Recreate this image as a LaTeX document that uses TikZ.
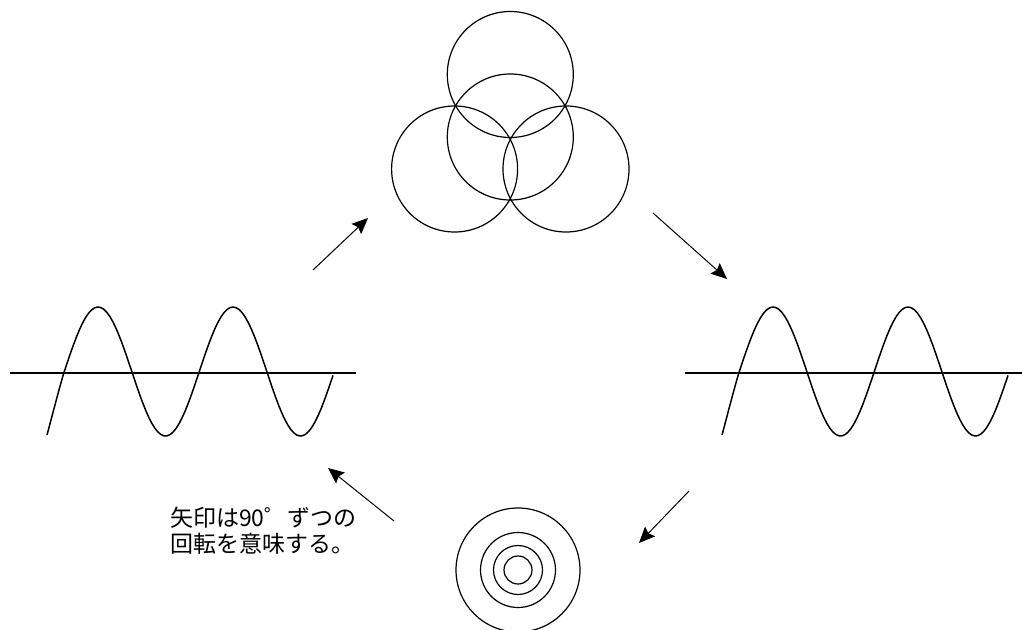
\documentclass[tikz,border=0pt]{standalone}
\usepackage{fontspec}
\newfontfamily\jpfont{Noto Sans CJK JP}
\usetikzlibrary{arrows.meta}
\begin{document}
\begin{tikzpicture}[x=1pt,y=-1pt,
  ring/.style={draw=black,line width=1.2pt},
  axisline/.style={draw=black,line width=1.9pt},
  wavecurve/.style={draw=black,line width=1.5pt},
  turnarrow/.style={draw=black,line width=1pt,-{Stealth[length=16pt,width=14pt,inset=2.5pt]}},
  note/.style={font=\jpfont\fontsize{23}{26}\selectfont,inner sep=0pt,anchor=base west}]
\useasboundingbox (0,0) rectangle (1022,629);
\clip (0,0) rectangle (1022,629);
\fill[white] (0,0) rectangle (1022,629);

% three-lobed circles (top)
\draw[ring] (510.3,74.5) circle[radius=63];
\draw[ring] (510.3,137) circle[radius=63];
\draw[ring] (454.6,169) circle[radius=63];
\draw[ring] (566,169) circle[radius=63];

% concentric circles (bottom)
\draw[ring] (518,570) circle[radius=14];
\draw[ring] (518,570) circle[radius=24.5];
\draw[ring] (518,570) circle[radius=37.5];
\draw[ring] (518,570) circle[radius=62];

% waves
\foreach \dx in {0,675}{
  \begin{scope}[shift={(\dx,0)}]
    \draw[axisline] (10,373.3) -- (356,373.3);
    \draw[wavecurve,line join=round] (47,435) .. controls (50,424) and (60.3,384) .. (64.3,371.5)
      -- plot[domain=64.3:333,samples=90] (\x,{371.5-64.5*sin(2.6667*(\x-64.3))});
  \end{scope}
}

% arrows
\coordinate (a1s) at (313,270); \coordinate (a1e) at (368,218);
\coordinate (a2s) at (653,213); \coordinate (a2e) at (727,279);
\coordinate (a3s) at (689,491); \coordinate (a3e) at (639,543);
\coordinate (a4s) at (394,521); \coordinate (a4e) at (328,468);
\draw[turnarrow] (a1s) -- (a1e);
\draw[turnarrow] (a2s) -- (a2e);
\draw[turnarrow] (a3s) -- (a3e);
\draw[turnarrow] (a4s) -- (a4e);

% note
\node[note] (note1) at (170,526) {矢印は90゜ずつの};
\node[note] (note2) at (170,552) {回転を意味する。};
\end{tikzpicture}
\end{document}
